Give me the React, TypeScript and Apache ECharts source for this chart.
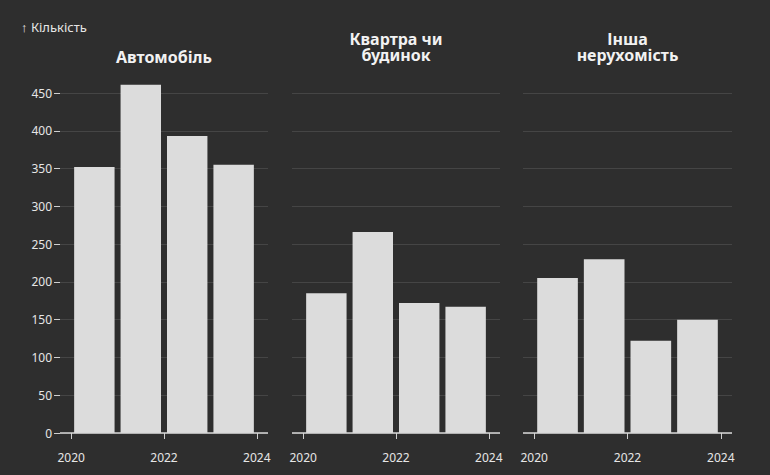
import React, { useEffect, useRef } from "react";
import * as echarts from "echarts";

const years = [2020, 2021, 2022, 2023];
const autoValues = [352, 461, 393, 355];
const apartmentValues = [185, 266, 172, 167];
const otherValues = [205, 230, 122, 150];
const panelTitles = ["Автомобіль", "Квартра чи\nбудинок", "Інша\nнерухомість"];
const xTickLabels = [2020, 2022, 2024];
const yAxisTitle = "↑ Кількість";

const BG = "#2e2e2e";
const FG = "#e6e6e6";
const BAR = "#dcdcdc";
const GRIDLINE = "#454545";
const FONT = "'Noto Sans', 'Open Sans', sans-serif";

export default function App() {
  const ref = useRef<HTMLDivElement>(null);
  useEffect(() => {
    document.body.style.margin = "0";
    document.body.style.background = BG;
    const chart = echarts.init(ref.current!, null, { renderer: "svg" });
    const panels = [autoValues, apartmentValues, otherValues];
    const lefts = [60, 292, 523];
    const widths = [208, 208, 209];
    const grids = panels.map((_, i) => ({
      left: lefts[i],
      width: widths[i],
      top: 93,
      bottom: 42,
      containLabel: false,
    }));
    const xAxes = panels.map((_, i) => ({
      type: "value",
      gridIndex: i,
      min: 2019.76,
      max: 2024.24,
      offset: 10,
      axisLine: { show: false },
      splitLine: { show: false },
      axisTick: {
        show: true,
        length: 6,
        customValues: xTickLabels,
        lineStyle: { color: "#cfcfcf", width: 1 },
      },
      axisLabel: {
        customValues: xTickLabels,
        formatter: (v: number) => String(v),
        color: FG,
        fontFamily: FONT,
        fontSize: 12,
        margin: 8,
      },
    }));
    const yAxes = panels.map((_, i) => ({
      type: "value",
      gridIndex: i,
      min: 0,
      max: 450,
      interval: 50,
      axisLine: { show: false },
      axisTick: {
        show: i === 0,
        length: 6,
        lineStyle: { color: "#cfcfcf", width: 1 },
      },
      axisLabel: {
        show: i === 0,
        color: FG,
        fontFamily: FONT,
        fontSize: 12,
        margin: 8,
      },
      splitLine: { show: true, lineStyle: { color: GRIDLINE, width: 1 } },
    }));
    const series = panels.map((vals, i) => ({
      type: "custom",
      xAxisIndex: i,
      yAxisIndex: i,
      clip: false,
      data: years.map((y, k) => [y, vals[k]]),
      encode: { x: 0, y: 1 },
      renderItem: (params: any, api: any) => {
        const x0 = api.value(0);
        const v = api.value(1);
        const p0 = api.coord([x0, 0]);
        const p1 = api.coord([x0 + 1, v]);
        return {
          type: "rect",
          shape: {
            x: p0[0] + 3,
            y: p1[1],
            width: p1[0] - p0[0] - 6,
            height: p0[1] - p1[1],
          },
          style: { fill: BAR },
        };
      },
      markLine: {
        silent: true,
        symbol: "none",
        label: { show: false },
        lineStyle: { color: "#d8d8d8", width: 1.5, type: "solid" },
        data: [{ yAxis: 0 }],
      },
    }));
    const titles: any[] = [];
    panelTitles.forEach((t, i) => {
      const lines = t.split("\n");
      const bottomCenter = lines.length > 1 ? 55 : 57;
      lines.forEach((line, k) => {
        const cy = bottomCenter - (lines.length - 1 - k) * 16;
        titles.push({
          text: line,
          left: lefts[i] + widths[i] / 2,
          textAlign: "center",
          top: cy - 8,
          padding: 0,
          textStyle: {
            color: "#f2f2f2",
            fontFamily: FONT,
            fontSize: 16,
            fontWeight: "bold",
            lineHeight: 16,
          },
        });
      });
    });
    titles.push({
      text: yAxisTitle,
      left: 21,
      top: 20,
      padding: 0,
      textStyle: { color: FG, fontFamily: FONT, fontSize: 13, fontWeight: "normal", lineHeight: 14 },
    });
    chart.setOption({
      animation: false,
      backgroundColor: BG,
      title: titles,
      grid: grids,
      xAxis: xAxes,
      yAxis: yAxes,
      series,
    });
    return () => chart.dispose();
  }, []);
  return <div ref={ref} style={{ width: 770, height: 475 }} />;
}
